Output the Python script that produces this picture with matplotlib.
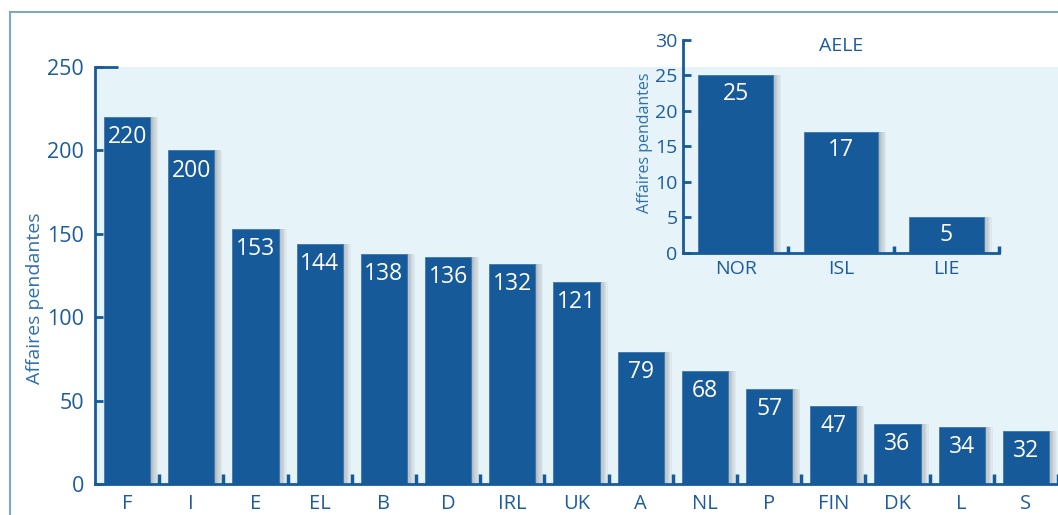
import matplotlib
matplotlib.use("Agg")
import matplotlib.pyplot as plt
from matplotlib.lines import Line2D
import numpy as np

# ---- data ----
countries = ["F", "I", "E", "EL", "B", "D", "IRL", "UK", "A", "NL", "P", "FIN", "DK", "L", "S"]
pending = [220, 200, 153, 144, 138, 136, 132, 121, 79, 68, 57, 47, 36, 34, 32]
efta_countries = ["NOR", "ISL", "LIE"]
efta_pending = [25, 17, 5]
main_yticks = [0, 50, 100, 150, 200, 250]
inset_yticks = [0, 5, 10, 15, 20, 25, 30]
ylabel_text = "Affaires pendantes"
inset_title = "AELE"

BAR = "#175a9a"
TXT = "#1d5c9c"
LBL = "#2f6fae"
BG = "#e6f3f8"
FONT = ["Open Sans", "DejaVu Sans"]
plt.rcParams["font.family"] = FONT

W, H = 1058, 515
fig = plt.figure(figsize=(W / 100, H / 100), dpi=100)

def fx(px):
    return px / W

def fy(py):
    return 1 - py / H

# frame
fig.add_artist(Line2D([fx(10), fx(10)], [fy(12), 0], transform=fig.transFigure, color="#6d9dd0", lw=1.3))
fig.add_artist(Line2D([fx(10), 1], [fy(12), fy(12)], transform=fig.transFigure, color="#6d9dd0", lw=1.3))


def draw_bars(ax, cats, vals, width, shadow_px, spacing_px, label_fs, label_off):
    x = np.arange(len(cats))
    # shadow strips (gradient)
    shift = shadow_px / spacing_px
    n = 6
    for k in range(n):
        a = 0.85 * (1 - k / n)
        ax.bar(x + width / 2 + shift * (k + 0.5) / n, vals, width=shift / n,
               color="#a8b0b5", alpha=a, zorder=1, linewidth=0)
    ax.bar(x, vals, width=width, color=BAR, zorder=2, edgecolor="#3f77b0", linewidth=0.6)
    for xi, v in zip(x, vals):
        ax.annotate(str(v), (xi, v), xytext=(0, -label_off), textcoords="offset points",
                    ha="center", va="center", color="white", fontsize=label_fs, zorder=3)
    return x


# ---- main axes ----
ax = fig.add_axes([fx(95), fy(484), 1 - fx(95), fy(67) - fy(484)])
ax.set_facecolor(BG)
x = draw_bars(ax, countries, pending, 0.72, 8, 64.1, 16.5, 14.5)
ax.set_xlim(-0.5, 14.5)
ax.set_ylim(0, 250)
for s in ["top", "right"]:
    ax.spines[s].set_visible(False)
for s in ["left", "bottom"]:
    ax.spines[s].set_color(BAR)
    ax.spines[s].set_linewidth(2)
ax.set_xticks(x)
ax.set_xticklabels(countries)
ax.set_xticks(np.arange(len(countries)) + 0.5, minor=True)
ax.tick_params(axis="x", which="major", length=0, pad=7, labelsize=14.5, labelcolor=TXT)
ax.tick_params(axis="x", which="minor", direction="in", length=7, width=2.5, color=BAR)
ax.set_yticks(main_yticks)
ax.tick_params(axis="y", which="major", direction="in", length=6, width=2, color=BAR,
               pad=8, labelsize=15.5, labelcolor=TXT)
ax.plot([-0.5, -0.14], [250, 250], color=BAR, lw=2, clip_on=False, zorder=5, solid_capstyle="butt")
fig.text(fx(35), fy(298), ylabel_text, rotation=90, ha="center", va="center", color=LBL, fontsize=14)

# ---- inset ----
ins = fig.add_axes([fx(683), fy(252.7), fx(999) - fx(683), fy(40) - fy(252.7)])
ins.set_facecolor("none")
xi = draw_bars(ins, efta_countries, efta_pending, 0.71, 8, 105.3, 16.5, 13)
ins.set_xlim(-0.5, 2.5)
ins.set_ylim(0, 30)
for s in ["top", "right"]:
    ins.spines[s].set_visible(False)
for s in ["left", "bottom"]:
    ins.spines[s].set_color(BAR)
    ins.spines[s].set_linewidth(2)
ins.set_xticks(xi)
ins.set_xticklabels(efta_countries)
ins.set_xticks(np.arange(len(efta_countries)) + 0.5, minor=True)
ins.tick_params(axis="x", which="major", length=0, pad=5, labelsize=14, labelcolor=TXT)
ins.tick_params(axis="x", which="minor", direction="in", length=5, width=2.5, color=BAR)
ins.set_yticks(inset_yticks)
ins.tick_params(axis="y", which="major", direction="in", length=6, width=2, color=BAR,
                pad=4, labelsize=14, labelcolor=TXT)
ins.text(0.5, 0.972, inset_title, transform=ins.transAxes, ha="center", va="center",
         color=TXT, fontsize=14)
fig.text(fx(645), fy(143), ylabel_text, rotation=90, ha="center", va="center", color=LBL, fontsize=11.5)

fig.savefig("out.png", dpi=100)
